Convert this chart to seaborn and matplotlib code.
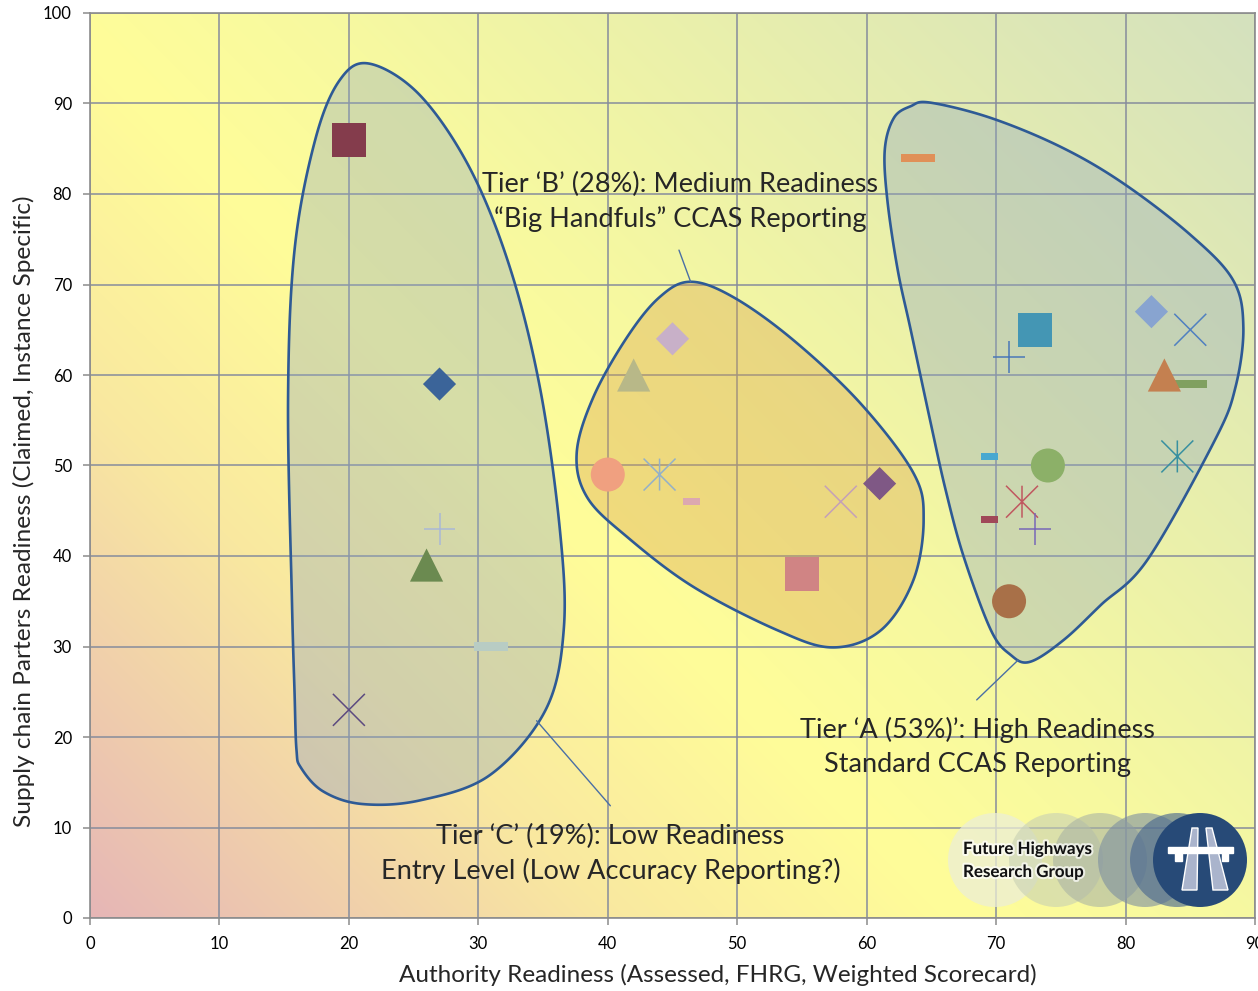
import numpy as np
import pandas as pd
import seaborn as sns
import matplotlib.pyplot as plt
from matplotlib.path import Path
from matplotlib.patches import Polygon, Circle
from matplotlib import patheffects as pe

# Point data
x_vals = [20, 27, 27, 26, 31, 20,
          40, 44, 46.5, 45, 42, 58, 61, 55,
          64, 73, 71, 82, 85, 83, 85, 69.5, 74, 72, 69.5, 73, 71, 84]
y_vals = [86, 59, 43, 39, 30, 23,
          49, 49, 46, 64, 60, 46, 48, 38,
          84, 65, 62, 67, 65, 60, 59, 51, 50, 46, 44, 43, 35, 51]
kinds = ["square", "diamond", "plus", "triangle", "dash", "x",
         "circle", "asterisk", "short_dash", "diamond", "triangle", "x", "diamond", "square",
         "dash", "square", "plus", "diamond", "x", "triangle", "dash", "short_dash",
         "circle", "asterisk", "short_dash", "plus", "circle", "asterisk"]
colors = ["#843c4c", "#3b6499", "#a9b8d6", "#6b8a50", "#b8ccc4", "#5c4a80",
          "#f0a080", "#93b0c8", "#dca8b0", "#c8b0c8", "#b8b888", "#c4a0b8", "#7f5885", "#d08484",
          "#e09058", "#4496b4", "#4a78b8", "#88a4d0", "#5080c0", "#c48050", "#80a060", "#48a8d0",
          "#8cb068", "#c05860", "#a04858", "#7868b8", "#a87048", "#3890a0"]

# tier outlines (data coords)
tier_c_x = [21.6, 25.5, 29.4, 32.5, 34.8, 36.3, 36.6, 35.2, 30.9, 25.5, 21.0, 18.0, 16.3,
            15.95, 15.8, 15.6, 15.3, 15.8, 17.4, 19.3]
tier_c_y = [94.4, 90.9, 82.7, 71.6, 58.3, 42.9, 31.9, 23.0, 15.8, 13.0, 12.6, 14.0, 16.6,
            18.6, 25.0, 35.1, 57.2, 73.8, 86.0, 92.6]
tier_b_x = [46.4, 49.7, 54.3, 59.5, 63.6, 64.4, 63.6, 61.1, 57.4, 53.1, 46.6, 41.5, 38.4,
            37.6, 38.9, 41.5, 44.0]
tier_b_y = [70.3, 68.6, 63.9, 56.9, 49.2, 44.0, 37.3, 31.8, 29.9, 31.8, 36.6, 42.1, 46.5,
            51.4, 57.6, 64.2, 68.6]
tier_a_x = [62.1, 63.4, 64.9, 69.6, 75.0, 79.8, 85.0, 88.3, 89.1, 88.5, 86.9, 81.7, 78.1,
            75.2, 72.6, 71.1, 69.6, 67.5, 66.1, 64.9, 63.4, 62.4, 61.6, 61.4]
tier_a_y = [88.4, 89.7, 90.1, 88.4, 85.2, 81.2, 75.5, 70.5, 65.3, 58.7, 52.8, 39.6, 34.6,
            30.7, 28.3, 29.1, 31.8, 39.9, 47.3, 55.0, 65.0, 71.6, 79.3, 84.9]

df = pd.DataFrame({"x": x_vals, "y": y_vals, "kind": kinds, "color": colors})
df["label"] = ["p%d" % i for i in range(len(df))]
palette = dict(zip(df["label"], df["color"]))


def closed_spline(xs, ys, n=40):
    P = np.column_stack([xs, ys])
    N = len(P)
    t = np.linspace(0, 1, n, endpoint=False)[:, None]
    out = []
    for i in range(N):
        p0, p1, p2, p3 = P[i - 1], P[i], P[(i + 1) % N], P[(i + 2) % N]
        out.append(0.5 * (2 * p1 + (-p0 + p2) * t + (2 * p0 - 5 * p1 + 4 * p2 - p3) * t ** 2
                          + (-p0 + 3 * p1 - 3 * p2 + p3) * t ** 3))
    return np.vstack(out)


# custom markers
dash_m = Path([(-1, -0.24), (1, -0.24), (1, 0.24), (-1, 0.24), (-1, -0.24)])
short_dash_m = Path([(-1, -0.42), (1, -0.42), (1, 0.42), (-1, 0.42), (-1, -0.42)])
ast_m = Path([(0, -1), (0, 1), (-1, -1), (1, 1), (-1, 1), (1, -1)],
             [Path.MOVETO, Path.LINETO] * 3)
marker_map = {
    "square": ("s", 600, 0), "diamond": ("D", 285, 0), "triangle": ("^", 570, 0),
    "circle": ("o", 600, 0), "dash": (dash_m, 600, 0), "short_dash": (short_dash_m, 150, 0),
    "plus": ("+", 530, 1.1), "x": ("x", 530, 1.1), "asterisk": (ast_m, 530, 1.1),
}

sns.set_theme(style="white")
plt.rcParams["font.family"] = ["Lato", "DejaVu Sans"]

fig = plt.figure(figsize=(12.58, 9.91), dpi=100)
ax = fig.add_axes([90 / 1258, 73 / 991, 1165 / 1258, 905 / 991])

# background gradient (diagonal, bottom-left -> top-right)
stops = np.array([0, 0.12, 0.25, 0.42, 0.55, 1.0])
cols = np.array([(230, 182, 182), (240, 206, 172), (249, 232, 160), (255, 253, 153),
                 (247, 249, 160), (212, 225, 190)]) / 255
gw, gh = 300, 233
u = np.linspace(0, 1, gw)[None, :]
v = np.linspace(1, 0, gh)[:, None]
tt = (u * 1165 + v * 905) / 2070
img = np.stack([np.interp(tt, stops, cols[:, k]) for k in range(3)], axis=-1)
ax.imshow(img, extent=(0, 90, 0, 100), aspect="auto", zorder=0, interpolation="bilinear")

# tier blobs
for bx, by, fc in [(tier_c_x, tier_c_y, "#8fa6c0"), (tier_b_x, tier_b_y, "#d9a048"),
                   (tier_a_x, tier_a_y, "#8fa6c0")]:
    pts = closed_spline(bx, by)
    ax.add_patch(Polygon(pts, closed=True, facecolor=fc, alpha=0.36, edgecolor="none", zorder=1))
    ax.add_patch(Polygon(pts, closed=True, facecolor="none", edgecolor="#2e5a95",
                         linewidth=1.9, joinstyle="round", zorder=2))

# markers
for kind, sub in df.groupby("kind"):
    m, s, lw = marker_map[kind]
    sns.scatterplot(data=sub, x="x", y="y", hue="label", palette=palette, marker=m, s=s,
                    linewidth=lw, edgecolor="face", legend=False, ax=ax, zorder=3)

# annotations
note_kw = dict(ha="center", va="center", fontsize=19.5, linespacing=1.42, zorder=4)
ax.text(45.6, 79.1, "Tier \u2018B\u2019 (28%): Medium Readiness\n\u201cBig Handfuls\u201d CCAS Reporting",
        **note_kw)
ax.plot([45.5, 46.4], [73.8, 70.3], color="#4a6fa5", lw=1, zorder=4)
ax.text(68.55, 18.9, "Tier \u2018A (53%)\u2019: High Readiness\nStandard CCAS Reporting", **note_kw)
ax.plot([68.5, 71.7], [24.1, 28.5], color="#4a6fa5", lw=1, zorder=4)
ax.text(40.2, 7.1, "Tier \u2018C\u2019 (19%): Low Readiness\nEntry Level (Low Accuracy Reporting?)",
        **note_kw)
ax.plot([40.2, 34.5], [12.4, 21.8], color="#4a6fa5", lw=1, zorder=4)

# axes styling
ax.set_xlim(0, 90)
ax.set_ylim(0, 100)
ax.set_xticks(range(0, 91, 10))
ax.set_yticks(range(0, 101, 10))
ax.grid(True, color="#868c9c", linewidth=1.1)
ax.set_axisbelow(True)
for sp in ax.spines.values():
    sp.set_color("#8c8c8c")
    sp.set_linewidth(1.2)
ax.tick_params(bottom=True, left=True, direction="out", length=5, width=1.1, color="#8c8c8c",
               labelsize=12, labelcolor="black", pad=8)
ax.set_xlabel("Authority Readiness (Assessed, FHRG, Weighted Scorecard)", fontsize=17.5)
ax.set_ylabel("Supply chain Parters Readiness (Claimed, Instance Specific)", fontsize=17.6)
ax.xaxis.set_label_coords(0.539, -0.051)
ax.yaxis.set_label_coords(-0.047, 0.449)

# logo
lax = fig.add_axes([940 / 1258, (991 - 915) / 991, 315 / 1258, 110 / 991], zorder=5)
lax.set_xlim(940, 1255)
lax.set_ylim(915, 805)
lax.axis("off")
for cx, c, a in [(995, "#eceed6", 0.75), (1056, "#c8d0b4", 0.6), (1100, "#aab4a4", 0.6),
                 (1145, "#7c8ea0", 0.6), (1177, "#4c6a90", 0.65)]:
    lax.add_patch(Circle((cx, 860), 47, facecolor=c, alpha=a, edgecolor="none"))
lax.add_patch(Circle((1200, 860), 47, facecolor="#274a77", edgecolor="none"))
lax.add_patch(Polygon([(1192, 828), (1198, 828), (1197, 890), (1182, 890)], facecolor="#aab4cc"))
lax.add_patch(Polygon([(1206, 828), (1212, 828), (1228, 890), (1213, 890)], facecolor="#aab4cc"))
lax.add_patch(Polygon([(1168, 847), (1233, 847), (1233, 853), (1228, 853), (1228, 861),
                       (1222, 861), (1222, 853), (1182, 853), (1182, 861), (1175, 861),
                       (1175, 853), (1168, 853)], facecolor="white"))
for ty, tx in [(849, "Future Highways"), (872, "Research Group")]:
    lax.text(963, ty, tx, fontsize=12.2, fontweight="bold", ha="left", va="center", color="#111111",
             path_effects=[pe.withStroke(linewidth=3, foreground="white", alpha=0.7)])

fig.savefig("out.png", dpi=100)
